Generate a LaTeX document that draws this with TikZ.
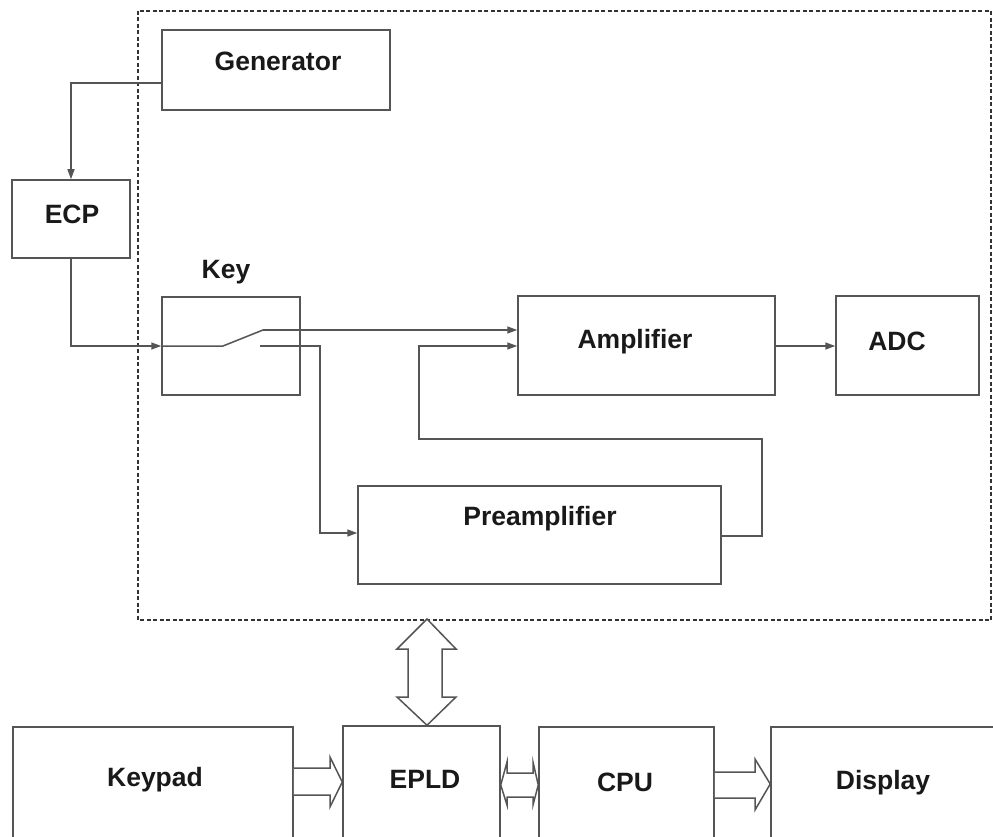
\documentclass[tikz,border=0pt]{standalone}
\usepackage{fontspec}
\setmainfont{Liberation Sans}
\usetikzlibrary{arrows.meta}
\definecolor{linec}{HTML}{555555}
\tikzset{
  box/.style={draw=linec, line width=1.5pt, rectangle, inner sep=0pt},
  lbl/.style={font=\bfseries\fontsize{26.5}{31}\selectfont, text=black!90, inner sep=0pt},
  wire/.style={draw=linec, line width=1.5pt},
  arr/.style={wire, -{Triangle[length=10pt,width=7pt]}},
  fat/.style={draw=linec, line width=1.5pt, fill=white, line join=miter},
  frame/.style={draw=black!80, line width=1.8pt, dash pattern=on 4pt off 2.5pt},
}
\begin{document}
\begin{tikzpicture}[x=1pt,y=-1pt]
\useasboundingbox (0,0) rectangle (993,837);
\clip (0,0) rectangle (993,837);
\fill[white] (0,0) rectangle (993,837);

% dashed frame
\draw[frame] (138,11) rectangle (991,620);

% boxes
\node[box, minimum width=228pt, minimum height=80pt] (gen) at (276,70) {};
\node[lbl] (gent) at (278,61) {Generator};
\node[box, minimum width=118pt, minimum height=78pt] (ecp) at (71,219) {};
\node[lbl] (ecpt) at (72,214) {ECP};
\node[box, minimum width=138pt, minimum height=98pt] (key) at (231,346) {};
\node[lbl] (keyt) at (226,272) {Key};
\node[box, minimum width=257pt, minimum height=99pt] (amp) at (646.5,345.5) {};
\node[lbl] (ampt) at (635,342) {Amplifier};
\node[box, minimum width=143pt, minimum height=99pt] (adc) at (907.5,345.5) {};
\node[lbl] (adct) at (897,341) {ADC};
\node[box, minimum width=363pt, minimum height=98pt] (pre) at (539.5,535) {};
\node[lbl] (pret) at (540,519) {Preamplifier};

\node[box, minimum width=280pt, minimum height=130pt] (kp) at (153,792) {};
\node[lbl] (kpt) at (155,780) {Keypad};
\node[box, minimum width=157pt, minimum height=130pt] (epld) at (421.5,791) {};
\node[lbl] (epldt) at (425,779) {EPLD};
\node[box, minimum width=175pt, minimum height=130pt] (cpu) at (626.5,792) {};
\node[lbl] (cput) at (625,782) {CPU};
\node[box, minimum width=230pt, minimum height=130pt] (disp) at (886,792) {};
\node[lbl] (dispt) at (883,783) {Display};

% wires
\coordinate (gl) at (gen.west |- 0,83);
\draw[arr] (gl) -| (ecp.north);
\coordinate (kin) at (key.west |- 0,346);
\draw[arr] (ecp.south) |- (kin);
\coordinate (sw1) at (223,346);
\coordinate (sw2) at (263,330);
\coordinate (sw3) at (260,346);
\draw[wire] (kin) -- (sw1) -- (sw2);
\coordinate (ain1) at (amp.west |- 0,330);
\draw[arr] (sw2) -- (ain1);
\coordinate (pin) at (pre.west |- 0,533);
\draw[arr] (sw3) -| (320,440) |- (pin);
\coordinate (pout) at (pre.east |- 0,536);
\coordinate (ain2) at (amp.west |- 0,346);
\draw[arr] (pout) -| (762,439) -| (419,400) |- (ain2);
\draw[arr] (amp.east |- 0,346) -- (adc.west |- 0,346);

% fat arrows
% keypad -> epld
\draw[fat] (kp.east |- 0,768) -- (330,768) -- (330,757) -- (epld.west |- 0,782) -- (330,807) -- (330,795) -- (kp.east |- 0,795);
% epld <-> cpu
\draw[fat] (epld.east |- 0,785) -- (507,762) -- (507,773) -- (533,773) -- (533,762) -- (cpu.west |- 0,785) -- (533,805) -- (533,797) -- (507,797) -- (507,805) -- cycle;
% cpu -> display
\draw[fat] (cpu.east |- 0,772) -- (755,772) -- (755,759) -- (disp.west |- 0,784) -- (755,810) -- (755,798) -- (cpu.east |- 0,798);
% vertical epld <-> frame
\coordinate (vt) at (427,619);
\draw[fat] (vt) -- (456,649) -- (442,649) -- (442,697) -- (456,697) -- (epld.north -| 427,0) -- (397,697) -- (408,697) -- (408,649) -- (397,649) -- cycle;
\end{tikzpicture}
\end{document}
